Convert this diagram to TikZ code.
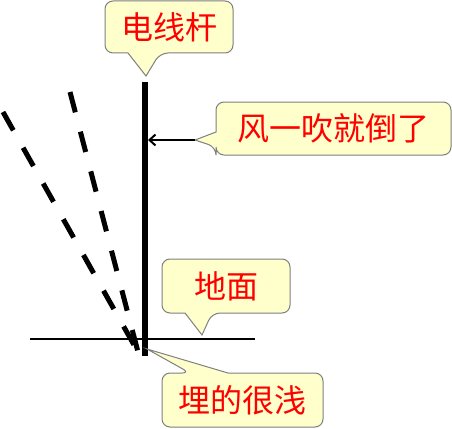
\documentclass[tikz,border=0pt]{standalone}
\usepackage{fontspec}
\newfontfamily\cjk{Noto Sans CJK SC}
\usetikzlibrary{arrows.meta}
\definecolor{calloutfill}{HTML}{FFFFCC}
\definecolor{calloutline}{HTML}{7F7F7F}
\tikzset{
  callout/.style={fill=calloutfill, draw=calloutline, line width=1pt},
  ctext/.style={font=\cjk\fontsize{32}{38}\selectfont, text=red, inner sep=0pt},
  polestyle/.style={line width=6pt},
  ground/.style={line width=2pt},
  fallen/.style={line width=5pt, dash pattern=on 21pt off 20pt},
  pusharrow/.style={line width=2pt, -{Straight Barb[length=6pt,width=11pt,line width=2pt]}}
}
\begin{document}
\begin{tikzpicture}[x=1pt,y=-1pt]
\useasboundingbox (0,0) rectangle (452,428);
% fallen positions (dashed)
\coordinate (base) at (138,352);
\coordinate (fa) at (3,112);
\coordinate (fb) at (70,92);
\draw[fallen] (fa) -- (base);
\draw[fallen] (fb) -- (base);
% ground
\coordinate (gl) at (30,339);
\coordinate (gr) at (255,339);
\draw[ground] (gl) -- (gr);
% pole
\coordinate (poletop) at (145,82);
\coordinate (polebot) at (145,356);
\draw[polestyle] (poletop) -- (polebot);
% callout 1
\draw[callout, rounded corners=8pt] (169,1) -- (233,1) -- (233,53) -- (160,53) [sharp corners] -- (146,76) -- (128,53) [rounded corners=8pt] -- (105,53) -- (105,1) -- cycle;
\node[ctext] (t1) at (169,27) {电线杆};
% callout 2
\coordinate (c2tip) at (195,140);
\coordinate (polehit) at (148,140);
\draw[callout, rounded corners=8pt] (333,102) -- (451,102) -- (451,155) -- (216,155) -- (216,147) [sharp corners] -- (c2tip) -- (216,132) [rounded corners=8pt] -- (216,102) -- cycle;
\node[ctext] (t2) at (333.5,128.5) {风一吹就倒了};
\draw[pusharrow] (c2tip) -- (polehit);
% callout 3
\draw[callout, rounded corners=8pt] (226,259) -- (290,259) -- (290,313) -- (212,313) [sharp corners] -- (202,335) -- (185,313) [rounded corners=8pt] -- (162,313) -- (162,259) -- cycle;
\node[ctext] (t3) at (226,286) {地面};
% callout 4
\draw[callout, rounded corners=8pt] (242,373) -- (323,373) -- (323,427) -- (162,427) -- (162,373) -- (190,373) [sharp corners] -- (147,349) -- (228,373) [rounded corners=8pt] -- cycle;
\node[ctext] (t4) at (242.5,400) {埋的很浅};
\end{tikzpicture}
\end{document}
